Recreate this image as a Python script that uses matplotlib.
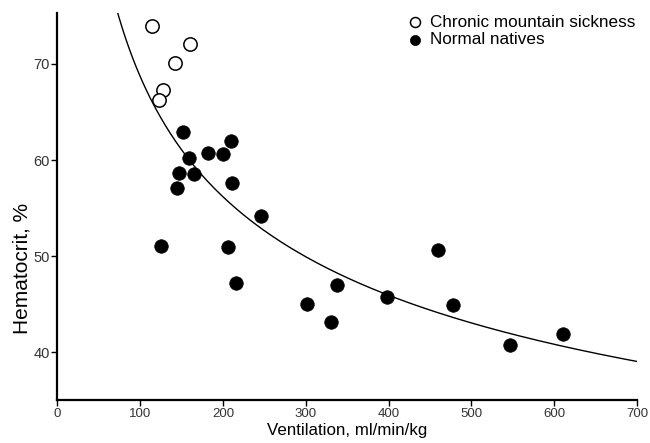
import numpy as np
import matplotlib
matplotlib.use("Agg")
import matplotlib.pyplot as plt

plt.rcParams['font.family'] = ['Liberation Sans', 'DejaVu Sans']

# Chronic mountain sickness (open circles)
cms_vent = [113.9, 160.1, 142.4, 127.2, 123.1]
cms_hct = [73.95, 72.08, 70.13, 67.26, 66.28]

# Normal natives (filled circles)
nat_vent = [151.3, 209.6, 181.5, 200.3, 158.9, 147.2, 165.0, 210.5, 144.1,
            245.5, 124.8, 206.4, 215.3, 302.0, 330.0, 338.0, 398.0, 460.0,
            478.0, 547.0, 611.0]
nat_hct = [62.96, 61.99, 60.71, 60.61, 60.19, 58.63, 58.53, 57.65, 57.07,
           54.19, 51.07, 51.0, 47.25, 45.0, 43.2, 47.0, 45.8, 50.7,
           44.93, 40.8, 41.9]

# fitted regression curve: Hct = fit_c * Vent ** (-fit_k)
fit_c = 261.6
fit_k = 0.2903
fit_range = [70, 700]

xticks = [0, 100, 200, 300, 400, 500, 600, 700]
yticks = [40, 50, 60, 70]

fig = plt.figure(figsize=(6.5, 4.43), dpi=100)
ax = fig.add_axes([57.3 / 650, 1 - 400 / 443, (637 - 57.3) / 650, (400 - 13) / 443])

xs = np.linspace(fit_range[0], fit_range[1], 300)
ax.plot(xs, fit_c * xs ** (-fit_k), color='black', lw=1.0, zorder=2)

ax.scatter(cms_vent, cms_hct, s=92, facecolors='white', edgecolors='black',
           linewidths=1.1, zorder=3, label='Chronic mountain sickness')
ax.scatter(nat_vent, nat_hct, s=95, facecolors='black', edgecolors='black',
           linewidths=0.5, zorder=3, label='Normal natives')

ax.set_xlim(0, 700)
ax.set_ylim(35.05, 75.3)
ax.set_xticks(xticks)
ax.set_yticks(yticks)
for s in ['top', 'right']:
    ax.spines[s].set_visible(False)
for s in ['left', 'bottom']:
    ax.spines[s].set_linewidth(1.6)
ax.tick_params(direction='out', length=4.3, width=1.0,
               labelcolor='#333333', pad=1.8)
ax.tick_params(axis='x', labelsize=9.5)
ax.tick_params(axis='y', labelsize=10.5, pad=1.2)

ax.set_xlabel('Ventilation, ml/min/kg', fontsize=12.2, labelpad=2)
ax.set_ylabel('Hematocrit, %', fontsize=15, labelpad=4)
ax.yaxis.set_label_coords(-0.045, 0.34)

leg = ax.legend(loc='upper right', bbox_to_anchor=(1.0, 1.0), frameon=False,
                fontsize=12.3, handletextpad=0.5, borderpad=0.1,
                labelspacing=0.15, markerscale=0.75, handlelength=0.7,
                borderaxespad=0.0)

fig.savefig('out.png', dpi=100)
